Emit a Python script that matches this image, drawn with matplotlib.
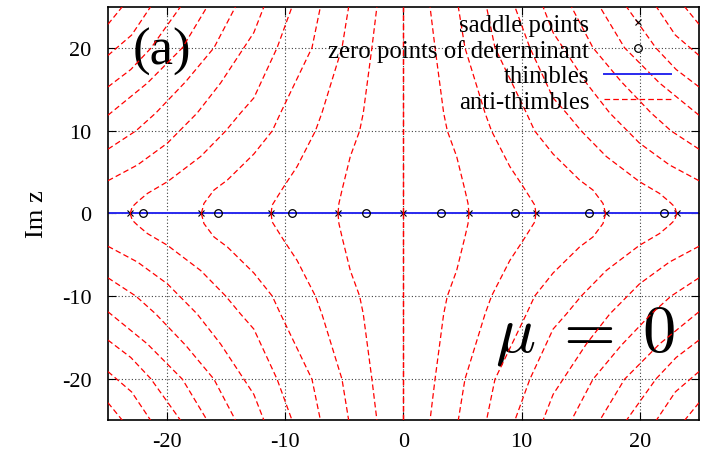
import matplotlib
matplotlib.use('Agg')
import matplotlib.pyplot as plt

plt.rcParams['font.family'] = ['Liberation Serif', 'DejaVu Serif']
plt.rcParams['mathtext.fontset'] = 'cm'
plt.rcParams['axes.unicode_minus'] = False

# saddle points and zeros of the determinant (on the real axis)
saddle_x = [-23.1, -17.1, -11.2, -5.55, 0.0, 5.55, 11.2, 17.1, 23.1]
zero_x = [-22.0, -15.7, -9.42, -3.14, 3.14, 9.42, 15.7, 22.0]

# thimble: the real axis
thimble_x = [-25, 25]
thimble_y = [0, 0]

# anti-thimbles, read off in the quadrant Re z <= 0, Im z <= 0
# (the picture is symmetric under Re z -> -Re z and Im z -> -Im z)
a_x = [0.0, 0.0]
a_y = [0.0, -25.0]
b_x = [-5.54, -5.46, -5.2, -4.5, -3.71, -3.4, -2.67, -2.25]
b_y = [0.0, -1.22, -2.84, -6.9, -10.0, -12.17, -20.07, -25.0]
c_x = [-11.2, -11.11, -10.13, -9.0, -7.45, -6.9, -5.2, -4.64]
c_y = [0.0, -1.01, -3.24, -5.68, -10.0, -12.17, -20.07, -25.0]
d_x = [-17.1, -16.88, -16.03, -14.9, -12.66, -11.1, -10.4, -7.74, -7.03]
d_y = [0.0, -1.22, -2.84, -4.05, -7.2, -10.0, -12.17, -20.07, -25.0]
e_x = [-23.12, -22.95, -22.5, -21.66, -19.97, -17.16, -15.05, -13.78, -12.66, -10.69, -9.42]
e_y = [0.0, -0.8, -1.42, -2.43, -3.85, -6.9, -9.98, -12.17, -13.99, -20.07, -25.06]
f_x = [-25.0, -22.5, -19.97, -17.45, -15.47, -13.5, -12.66, -11.8]
f_y = [-3.97, -5.88, -8.52, -12.17, -15.8, -20.07, -21.9, -25.06]
g_x = [-25.0, -22.64, -20.95, -18.4, -16.03, -14.2]
g_y = [-7.79, -10.0, -12.17, -16.0, -20.07, -25.06]
h_x = [-25.0, -21.66, -18.7, -16.6]
h_y = [-11.9, -15.8, -20.07, -25.06]
i_x = [-25.0, -23.07, -21.38, -18.85]
i_y = [-15.33, -17.43, -20.0, -25.06]
j_x = [-25.0, -23.0, -21.38]
j_y = [-19.14, -21.6, -25.06]
k_x = [-25.0, -23.77]
k_y = [-22.91, -25.06]

curves = [(a_x, a_y), (b_x, b_y), (c_x, c_y), (d_x, d_y), (e_x, e_y),
          (f_x, f_y), (g_x, g_y), (h_x, h_y), (i_x, i_y), (j_x, j_y),
          (k_x, k_y)]

fig = plt.figure(figsize=(7.02, 4.60), dpi=100)
ax = fig.add_axes([0.1538, 0.0848, 0.8419, 0.8978])

ax.plot(saddle_x, [0] * len(saddle_x), 'x', color='black', ms=5, mew=0.8,
        label='saddle points', zorder=3)
ax.plot(zero_x, [0] * len(zero_x), 'o', mfc='none', mec='black', ms=5.5, mew=0.9,
        label='zero points of determinant', zorder=3)
ax.plot(thimble_x, thimble_y, color='#2a2aee', lw=1.4, label='thimbles', zorder=2)

dash = (0, (4.5, 2.5))
first = True
for cx, cy in curves:
    for sx in (1, -1):
        for sy in (1, -1):
            ax.plot([sx * v for v in cx], [sy * v for v in cy], color='red',
                    lw=0.9, linestyle=dash, zorder=4,
                    label='anti-thimbles' if first else None)
            first = False

ax.set_xlim(-25, 25)
ax.set_ylim(-25, 25)
ax.set_xticks([-20, -10, 0, 10, 20])
ax.set_yticks([-20, -10, 0, 10, 20])
ax.tick_params(direction='in', top=True, right=True, length=6, width=0.8,
               labelsize=16)
ax.tick_params(axis='y', pad=12)
ax.tick_params(axis='x', pad=9)
ax.grid(True, color='0.25', linestyle=(0, (1, 2)), linewidth=0.8)
for s in ax.spines.values():
    s.set_linewidth(1.2)

ax.set_ylabel('Im z', fontsize=19, labelpad=10)

ax.text(-20.4, 18.1, '(a)', fontsize=38, ha='center', va='baseline')
ax.text(15.4, -16.6, r'$\mu\;=\;0$', fontsize=48, ha='center', va='baseline')

ax.legend(loc='upper right', bbox_to_anchor=(0.953, 0.985), frameon=False,
          markerfirst=False, fontsize=17.8, handlelength=2.7, handletextpad=0.62,
          labelspacing=0.13, borderpad=0, borderaxespad=0)

fig.savefig('out.png', dpi=100)
